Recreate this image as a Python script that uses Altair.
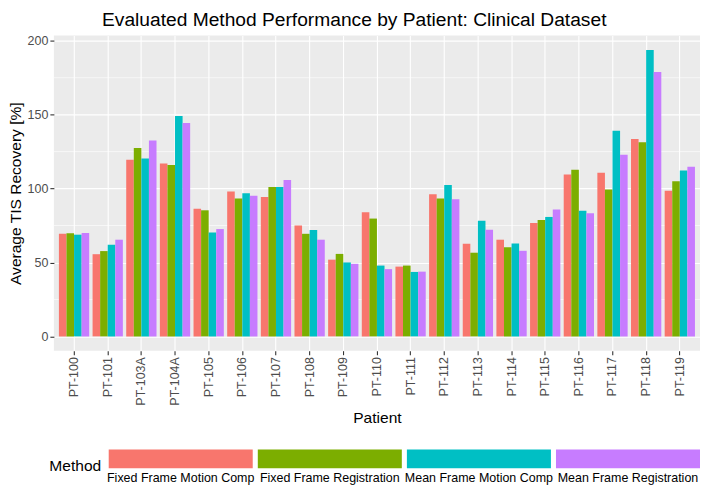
import altair as alt
import pandas as pd

patients = ["PT-100", "PT-101", "PT-103A", "PT-104A", "PT-105", "PT-106", "PT-107",
            "PT-108", "PT-109", "PT-110", "PT-111", "PT-112", "PT-113", "PT-114",
            "PT-115", "PT-116", "PT-117", "PT-118", "PT-119"]
methods = ["Fixed Frame Motion Comp", "Fixed Frame Registration",
           "Mean Frame Motion Comp", "Mean Frame Registration"]
colors = ["#F8766D", "#7CAE00", "#00BFC4", "#C77CFF"]

fixed_motion = [69.4, 55.6, 119.5, 117.0, 86.3, 98.0, 94.3, 75.0, 51.9, 84.0,
                47.2, 96.2, 62.7, 65.4, 76.7, 109.6, 110.7, 133.5, 98.5]
fixed_reg = [69.7, 57.7, 127.5, 115.9, 85.3, 93.2, 101.0, 69.4, 55.8, 79.7,
             47.9, 93.2, 56.6, 60.3, 78.8, 112.8, 99.4, 131.4, 104.9]
mean_motion = [68.8, 62.0, 120.4, 149.1, 70.3, 96.8, 101.0, 72.0, 50.0, 47.9,
               43.6, 102.4, 78.2, 62.8, 80.8, 85.0, 139.1, 193.8, 112.2]
mean_reg = [70.0, 65.4, 132.6, 144.4, 72.6, 95.1, 105.8, 65.4, 49.1, 45.5,
            43.8, 92.7, 72.2, 57.9, 85.9, 83.3, 122.9, 178.8, 114.7]

y_ticks = [0, 50, 100, 150, 200]
minor_breaks = [25, 75, 125, 175]

series = [fixed_motion, fixed_reg, mean_motion, mean_reg]
rows = []
for m, vals in zip(methods, series):
    for p, v in zip(patients, vals):
        rows.append({"Patient": p, "Method": m, "Value": v})
df = pd.DataFrame(rows)

FONT = "Liberation Sans"
ymax = max(max(s) for s in series)
ydomain = [-0.05 * ymax, ymax * 1.05]

color_scale = alt.Scale(domain=methods, range=colors)
y_scale = alt.Scale(domain=ydomain, nice=False, zero=False)
y_axis = alt.Axis(title="Average TIS Recovery [%]", values=y_ticks,
                  labelFontSize=12.5, labelColor="#4D4D4D", labelPadding=2,
                  tickColor="#333333", tickSize=4, tickWidth=1.1,
                  domain=False, grid=True, gridColor="white", gridWidth=1.1,
                  titleFontSize=15.6, titleColor="black",
                  titleFontWeight="normal", titlePadding=4)

minor = alt.Chart(pd.DataFrame({"v": minor_breaks})).mark_rule(
    color="white", strokeWidth=0.6
).encode(y=alt.Y("v:Q", scale=y_scale, axis=y_axis))

bars = alt.Chart(df).mark_bar().encode(
    x=alt.X("Patient:N", sort=patients,
            scale=alt.Scale(paddingInner=0.1, paddingOuter=0.15),
            axis=alt.Axis(title="Patient", bandPosition=0.5, labelAngle=270,
                          labelAlign="right", labelBaseline="middle", labelPadding=2,
                          labelFontSize=12.5, labelColor="#4D4D4D",
                          tickColor="#333333", tickSize=4, tickWidth=1.1,
                          domain=False, grid=True, gridColor="white", gridWidth=1.1,
                          titleFontSize=15.6, titleColor="black",
                          titleFontWeight="normal", titlePadding=5)),
    xOffset=alt.XOffset("Method:N", sort=methods,
                        scale=alt.Scale(paddingInner=0, paddingOuter=0)),
    y=alt.Y("Value:Q", scale=y_scale, axis=y_axis),
    y2=alt.datum(0),
    color=alt.Color("Method:N", sort=methods, scale=color_scale, legend=None),
)

main = alt.layer(minor, bars).properties(
    width=648, height=316,
    view=alt.ViewBackground(fill="#EBEBEB", stroke=None),
)

leg_df = pd.DataFrame({"Method": methods, "row": ["Method"] * len(methods)})
legend = alt.Chart(leg_df).mark_rect().encode(
    x=alt.X("Method:N", sort=methods,
            scale=alt.Scale(range=[55, 648], paddingInner=0.034, paddingOuter=0),
            axis=alt.Axis(title=None, orient="bottom", labelAngle=0, labelAlign="center",
                          labelBaseline="top", ticks=False, domain=False, grid=False,
                          labelPadding=3, labelFontSize=12.5, labelColor="black",
                          labelLimit=0)),
    y=alt.Y("row:N", scale=alt.Scale(paddingInner=0, paddingOuter=0),
            axis=alt.Axis(labels=False, ticks=False, domain=False, grid=False,
                          title="Method", titleAngle=0, titleAlign="right",
                          titleBaseline="middle", titleX=47, titleY=16,
                          titleFontSize=15.6, titleFontWeight="normal",
                          titleColor="black")),
    color=alt.Color("Method:N", sort=methods, scale=color_scale, legend=None),
).properties(width=648, height=19, view=alt.ViewBackground(stroke=None))

chart = alt.vconcat(
    main, legend, spacing=99, bounds="flush",
    title=alt.TitleParams("Evaluated Method Performance by Patient: Clinical Dataset",
                          fontSize=19.25, fontWeight="normal", color="black",
                          anchor="middle", offset=5, font=FONT),
).properties(padding={"top": 1, "left": 0, "right": 0, "bottom": 0}
).configure(font=FONT).configure_view(stroke=None)

chart.save("out.html", embed_options={"renderer": "svg", "actions": False})
